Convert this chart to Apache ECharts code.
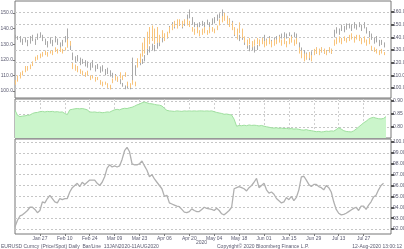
<!DOCTYPE html>
<html>
<head>
<meta charset="utf-8">
<script src="https://cdn.jsdelivr.net/npm/echarts@6/dist/echarts.min.js"></script>
<style>
html,body{margin:0;padding:0;background:#fff;}
#c{width:404px;height:249px;}
</style>
</head>
<body>
<div id="c"></div>
<script>
// ---------- data ----------
const tickLabels = ['Jan 27','Feb 10','Feb 24','Mar 09','Mar 23','Apr 06','Apr 20','May 04','May 18','Jun 01','Jun 15','Jun 29','Jul 13','Jul 27'];
const yearLabel = '2020';

// top panel, grey bars (right axis): daily low / high
const grayLow = [
139,138,136,134,136,133,135,137,134,138,
140,137,134,132,135,133,136,134,131,133,
136,132,130,122,120,121,118,119,117,116,
114,116,113,115,112,113,110,111,109,108,
106,105,103,101,99,100,99,105,110,117,
118,119,121,126,128,130,129,131,133,136,
138,139,145,148,147,148,149,147,149,152,
155,150,148,147,148,149,148,150,148,150,
151,153,155,156,154,152,150,148,141,139,
137,138,134,131,129,130,128,130,133,135,
137,134,136,133,135,137,138,139,140,139,
141,138,140,139,131,128,125,123,122,125,
126,127,126,128,127,126,128,127,140,143,
142,145,144,146,147,145,147,146,148,145,
147,143,140,138,135,136,133,134,132];
const grayHigh = [
142,141,141,139,140,138,141,142,139,143,
144,142,139,137,140,138,141,139,136,138,
141,147,137,128,125,126,124,123,122,121,
120,122,118,119,117,118,115,116,114,112,
111,109,107,104,102,103,102,124,118,121,
122,123,126,131,133,135,134,136,137,141,
142,143,149,152,151,152,152,151,153,158,
162,156,152,151,152,153,152,154,152,155,
156,158,159,162,159,157,155,153,145,144,
142,143,139,136,134,135,133,134,138,140,
142,139,141,138,140,141,142,143,144,143,
144,142,144,143,136,132,130,128,127,129,
130,132,131,132,131,130,132,131,146,148,
147,150,149,151,151,150,152,150,152,150,
152,148,145,143,140,141,138,138,136];

// top panel, orange bars (left axis): daily low / high
const orangeLow = [
104,106,108,110,112,113,114,116,119,120,
121,122,123,122,124,123,125,124,125,124,
126,128,129,114,113,112,111,110,109,110,
107,108,106,107,104,103,104,102,101,105,
107,106,108,107,109,103,102,104,103,115,
118,122,124,127,130,132,130,131,131,134,
132,134,137,139,141,140,142,141,143,142,
141,138,136,137,135,136,137,136,137,138,
137,139,142,144,145,143,141,139,136,133,
137,134,131,129,130,128,129,130,129,130,
128,129,130,128,129,130,131,129,130,128,
130,131,129,130,124,121,119,120,121,119,
123,124,123,125,124,123,125,124,129,130,
131,130,132,131,132,133,131,133,132,130,
131,129,130,126,125,124,123,124,123];
const orangeHigh = [
107,110,112,113,116,116,117,119,122,123,
124,125,126,125,126,126,128,127,128,127,
128,133,132,118,117,116,114,113,112,113,
110,110,109,109,107,106,106,105,104,108,
110,109,112,110,112,106,105,107,106,121,
124,131,134,138,141,142,140,141,136,139,
137,138,141,143,145,146,146,145,146,146,
145,141,140,141,139,140,141,139,141,141,
140,142,146,148,150,148,146,144,141,140,
144,140,135,133,134,132,133,134,133,134,
132,133,134,132,133,133,135,133,134,132,
134,135,133,134,128,126,124,124,125,123,
127,128,127,128,127,126,128,127,133,134,
135,134,135,134,136,137,135,136,136,134,
135,133,134,129,128,127,126,127,125];

// middle panel (green area)
const ratio = [
0.865,0.845,0.840,0.842,0.843,0.845,0.846,0.852,0.855,0.856,
0.859,0.860,0.858,0.860,0.859,0.860,0.858,0.859,0.857,0.858,
0.852,0.848,0.866,0.868,0.870,0.871,0.870,0.871,0.869,0.866,
0.858,0.857,0.858,0.856,0.857,0.855,0.856,0.858,0.857,0.862,
0.866,0.868,0.866,0.870,0.872,0.871,0.874,0.876,0.880,0.885,
0.888,0.893,0.896,0.893,0.890,0.889,0.887,0.885,0.884,0.881,
0.872,0.864,0.862,0.861,0.860,0.862,0.861,0.860,0.862,0.861,
0.862,0.861,0.862,0.861,0.862,0.862,0.861,0.862,0.861,0.862,
0.859,0.856,0.854,0.852,0.849,0.850,0.848,0.846,0.830,0.803,
0.806,0.805,0.807,0.805,0.808,0.806,0.807,0.806,0.804,0.806,
0.803,0.801,0.799,0.797,0.796,0.797,0.795,0.796,0.794,0.795,
0.793,0.794,0.792,0.793,0.791,0.789,0.788,0.790,0.787,0.786,
0.784,0.782,0.783,0.781,0.782,0.784,0.783,0.785,0.784,0.790,
0.797,0.792,0.786,0.783,0.782,0.781,0.785,0.792,0.800,0.808,
0.816,0.822,0.830,0.835,0.837,0.834,0.832,0.831,0.833,0.840];

// bottom panel (grey line)
const lower = [
92.2,92.8,93.2,93.3,93.5,93.7,94.0,94.0,93.8,93.5,
93.7,94.5,94.4,94.8,95.1,94.8,94.5,94.4,94.8,94.7,
94.8,94.8,95.4,95.8,96.0,96.2,95.9,96.3,96.1,96.3,
96.5,96.5,96.5,96.2,96.0,96.3,96.8,97.6,97.9,97.7,
97.8,97.7,97.8,98.4,99.2,99.5,99.1,98.0,97.9,97.9,
98.0,98.25,97.8,97.4,96.8,97.0,96.6,96.3,96.0,95.7,
95.0,95.1,94.4,94.3,94.2,94.1,94.05,93.8,93.55,93.5,
93.6,93.85,93.7,93.6,93.6,93.8,94.0,93.9,93.85,93.8,
93.7,93.9,93.7,93.4,93.3,93.5,93.7,94.0,95.7,95.8,
95.9,95.8,95.7,95.5,95.8,96.0,96.3,96.65,95.8,96.0,
96.2,95.6,95.3,95.4,95.2,94.8,94.6,94.4,94.5,94.9,
94.7,95.0,94.6,94.9,95.6,96.8,96.85,96.5,96.1,95.9,
96.1,96.1,95.9,95.8,95.6,96.0,95.8,95.4,94.5,93.8,
93.45,93.3,93.35,93.45,93.6,93.75,93.9,94.0,93.7,94.1,
94.1,93.8,94.2,94.5,94.95,95.1,95.6,96.0,96.2];

const footerLeft = 'EURUSD Curncy (Price/Spot) Daily  Bar/Line  13JAN2020-11AUG2020';
const footerMid = 'Copyright\u00A9 2020 Bloomberg Finance L.P.';
const footerRight = '12-Aug-2020 13:00:12';

// ---------- categories: business days ----------
const dates = [];
(function(){
  let t = Date.UTC(2020, 0, 13);
  while (dates.length < 152) {
    const d = new Date(t);
    const wd = d.getUTCDay();
    if (wd !== 0 && wd !== 6) dates.push(d.toISOString().slice(0, 10));
    t += 86400000;
  }
})();
const isTick = (i) => i % 10 === 0 && i >= 10 && i <= 140;

// ---------- chart ----------
const FONT = 'Liberation Sans';
const TXT = '#5a5a70';
const chart = echarts.init(document.getElementById('c'), null, {renderer: 'canvas', width: 404, height: 249});

function G(top, height, extra) {
  return Object.assign({left: 15, right: 13, top: top, height: height, containLabel: false, outerBoundsMode: 'none'}, extra || {});
}
const frame = {show: true, borderColor: '#777777', borderWidth: 1, backgroundColor: 'transparent'};
const grids = [
  G(1, 97, frame),      // 0 top frame
  G(13, 78),            // 1 orange (left axis)
  G(12, 76),            // 2 grey (right axis)
  G(99, 39, frame),     // 3 middle frame + area
  G(101, 26),           // 4 middle labels
  G(139, 95, frame),    // 5 bottom frame + x labels
  G(142, 87)            // 6 bottom line
];

const xAxes = grids.map((g, i) => ({type: 'category', gridIndex: i, data: dates, boundaryGap: false, show: false}));
xAxes[3] = {type: 'category', gridIndex: 3, data: dates, boundaryGap: false, show: true,
  axisLine: {show: false}, axisTick: {show: false}, axisLabel: {show: false},
  splitLine: {show: true, interval: (i) => isTick(i), lineStyle: {color: '#d0d0d0', type: [2, 2], width: 1}}};
xAxes[5] = {type: 'category', gridIndex: 5, data: dates, boundaryGap: false, show: true,
  axisLine: {show: false},
  axisTick: {show: true, interval: (i) => isTick(i), length: 2, lineStyle: {color: '#777'}},
  axisLabel: {show: true, interval: (i) => isTick(i), margin: 2, fontSize: 5, fontFamily: FONT, color: TXT,
    formatter: (v, i) => isTick(i) ? tickLabels[i / 10 - 1] : ''},
  splitLine: {show: false}};

const dash = {show: true, lineStyle: {color: '#c6c6c6', type: [2, 2], width: 1}};
const lab = (fmt, margin) => ({show: true, fontSize: 5, fontFamily: FONT, color: TXT, margin: margin, formatter: fmt});
const yAxes = [
  {type: 'value', gridIndex: 0, show: false, min: 0, max: 1},
  {type: 'value', gridIndex: 1, position: 'left', min: 100, max: 150, interval: 10,
    axisLine: {show: false}, axisTick: {show: true, length: 2, lineStyle: {color: '#777'}},
    axisLabel: lab((v) => v.toFixed(1), 2), splitLine: {show: false}},
  {type: 'value', gridIndex: 2, position: 'right', min: 100, max: 160, interval: 10,
    axisLine: {show: false}, axisTick: {show: true, length: 3, lineStyle: {color: '#555', width: 2}},
    axisLabel: lab((v) => v.toFixed(1), 2), splitLine: dash},
  {type: 'value', gridIndex: 3, show: false, min: 0.7577, max: 0.9077, splitLine: {show: false}},
  {type: 'value', gridIndex: 4, position: 'right', min: 0.8, max: 0.9, interval: 0.05,
    axisLine: {show: false}, axisTick: {show: true, length: 3, lineStyle: {color: '#555', width: 2}},
    axisLabel: lab((v) => v.toFixed(2), 2), splitLine: dash},
  {type: 'value', gridIndex: 5, show: false, min: 0, max: 1},
  {type: 'value', gridIndex: 6, position: 'right', min: 92, max: 100, interval: 1,
    axisLine: {show: false}, axisTick: {show: true, length: 3, lineStyle: {color: '#555', width: 2}},
    axisLabel: lab((v) => v.toFixed(2), 2), splitLine: dash}
];

function barRenderer(color) {
  return function (params, api) {
    const lo = api.coord([api.value(0), api.value(1)]);
    const hi = api.coord([api.value(0), api.value(2)]);
    const x = Math.round(lo[0]) + 0.5;
    return {type: 'line', shape: {x1: x, y1: lo[1], x2: x, y2: hi[1]},
      style: {stroke: color, lineWidth: 1}};
  };
}
const grayRows = grayLow.map((v, i) => [i, v, grayHigh[i]]);
const orangeRows = orangeLow.map((v, i) => [i, v, orangeHigh[i]]);

chart.setOption({
  animation: false,
  backgroundColor: '#ffffff',
  grid: grids,
  xAxis: xAxes,
  yAxis: yAxes,
  series: [
    {type: 'custom', name: 'grey', xAxisIndex: 2, yAxisIndex: 2, data: grayRows, z: 3,
      encode: {x: 0, y: [1, 2]}, renderItem: barRenderer('#a9a9a9'), clip: false},
    {type: 'custom', name: 'orange', xAxisIndex: 1, yAxisIndex: 1, data: orangeRows, z: 4,
      encode: {x: 0, y: [1, 2]}, renderItem: barRenderer('#f8c47c'), clip: false},
    {type: 'line', name: 'ratio', xAxisIndex: 3, yAxisIndex: 3, data: ratio, symbol: 'none', z: 2,
      lineStyle: {color: '#9fe09f', width: 1}, areaStyle: {color: '#cbf5cb', opacity: 1, origin: 'start'}},
    {type: 'line', name: 'lower', xAxisIndex: 6, yAxisIndex: 6, data: lower, symbol: 'none', z: 3,
      lineStyle: {color: '#b0b0b0', width: 1.3}}
  ],
  graphic: [
    {type: 'text', left: 196, top: 240, style: {text: yearLabel, fontSize: 5, fontFamily: FONT, fill: TXT}},
    {type: 'text', left: 1, top: 244, style: {text: footerLeft, fontSize: 5, fontFamily: FONT, fill: TXT}},
    {type: 'text', left: 217, top: 244, style: {text: footerMid, fontSize: 5, fontFamily: FONT, fill: TXT}},
    {type: 'text', right: 2, top: 244, style: {text: footerRight, fontSize: 5, fontFamily: FONT, fill: TXT}}
  ]
});
</script>
</body>
</html>
